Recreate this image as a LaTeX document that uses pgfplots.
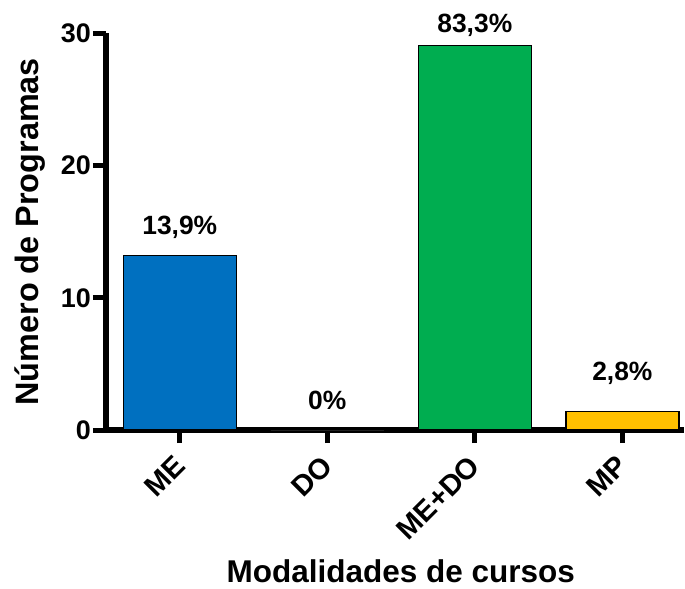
\documentclass[border=0pt]{standalone}
\usepackage{fontspec}
\setmainfont{Liberation Sans}
\usepackage{pgfplots}
\pgfplotsset{compat=1.18}
\definecolor{barblue}{RGB}{0,112,192}
\definecolor{bargreen}{RGB}{0,173,80}
\definecolor{baryellow}{RGB}{255,192,0}
\begin{document}
\begin{tikzpicture}
\begin{axis}[
  scale only axis,
  width=578bp, height=396.5bp,
  xmin=-0.5, xmax=3.418,
  ymin=0, ymax=30,
  axis x line*=bottom, axis y line*=left,
  axis line style={line width=5.5bp, black},
  tick style={line width=5bp, black},
  major tick length=13bp,
  tick align=outside,
  xtick={0,1,2,3},
  xticklabels={ME,DO,ME+DO,MP},
  ytick={0,10,20,30},
  /pgf/number format/assume math mode=true,
  tick label style={font=\bfseries\fontsize{27}{30}\selectfont},
  yticklabel style={inner sep=2bp},
  xticklabel style={font=\bfseries\fontsize{29}{32}\selectfont, yshift=-18bp, xshift=0bp, rotate=45, anchor=east, inner sep=0bp},
  ylabel={Número de Programas},
  ylabel style={font=\bfseries\fontsize{32.5}{36}\selectfont, at={(axis description cs:-0.1315,0.5)}, anchor=center},
  xlabel={Modalidades de cursos},
  xlabel style={font=\bfseries\fontsize{31.6}{35}\selectfont, at={(axis description cs:0.510,-0.355)}, anchor=center},
  ybar, bar width=0.766, bar shift=0pt,
  clip=false,
  point meta=explicit symbolic,
  nodes near coords,
  every node near coord/.style={font=\bfseries\fontsize{26.5}{30}\selectfont, anchor=center, black},
]
\addplot[fill=barblue, draw=black, line width=1.5bp, every node near coord/.append style={yshift=28bp}] coordinates {(0,13.2) [13,9\%]};
\addplot[fill=white, draw=none, every node near coord/.append style={yshift=30bp}] coordinates {(1,0) [0\%]};
\addplot[fill=bargreen, draw=black, line width=1.5bp, every node near coord/.append style={yshift=20bp}] coordinates {(2,29.1) [83,3\%]};
\addplot[fill=baryellow, draw=black, line width=1.5bp, every node near coord/.append style={yshift=38bp}] coordinates {(3,1.4) [2,8\%]};
\coordinate (O) at (rel axis cs:0,0);
\end{axis}
\pgfresetboundingbox
\path ([shift={(-106bp,-159bp)}]O) rectangle ([shift={(579bp,430bp)}]O);
\end{tikzpicture}
\end{document}
